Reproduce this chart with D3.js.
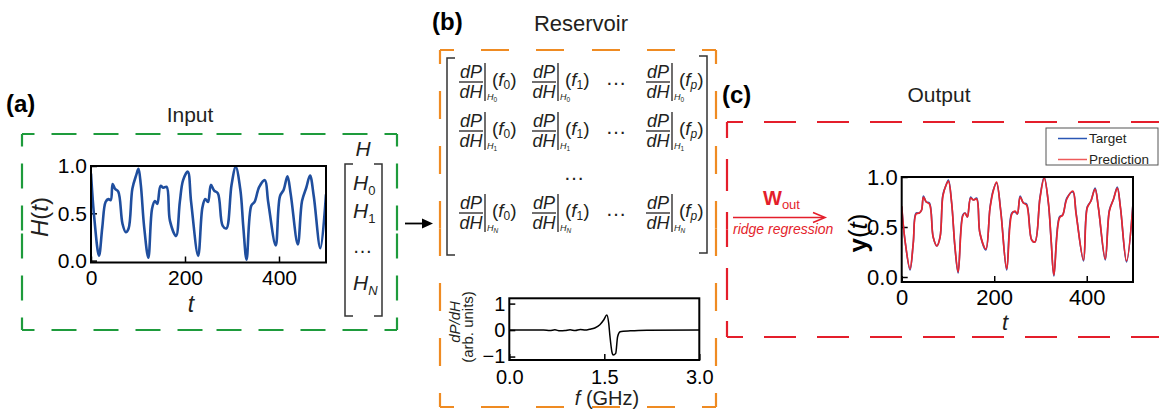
<!DOCTYPE html>
<html>
<head>
<meta charset="utf-8">
<script src="https://cdn.jsdelivr.net/npm/d3@7"></script>
<style>
  body { margin: 0; background: #fff; }
  svg { display: block; }
</style>
</head>
<body>
<svg id="fig" width="1159" height="419"></svg>
<script>
/* Schéma reservoir computing : entrée H(t), réservoir dP/dH, sortie y(t) */

const FONT = "Arial, 'Liberation Sans', Helvetica, sans-serif";
const INK = "#231f20", BLEU = "#1f4e9e", VERT = "#1e9b3c", ORANGE = "#ef8b22", ROUGE = "#e41e2b";

// (a) signal d'entrée H(t)
const inT = [0, 7, 17, 24, 31, 37, 42, 46, 51, 58, 67, 74, 80, 88, 96, 101, 106, 113, 122, 130, 136, 141,
  148, 154, 161, 168, 181, 189, 196, 206, 213, 228, 237, 243, 249, 255, 262, 270, 280, 288, 299, 308,
  318, 324, 331, 341, 348, 358, 370, 377, 393, 402, 410, 418, 425, 440, 449, 458, 466, 474, 488, 500];
const inH = [0.92, 0.45, 0.05, 0.35, 0.62, 0.65, 0.64, 0.81, 0.76, 0.73, 0.39, 0.30, 0.34, 0.76, 0.90, 0.97,
  0.80, 0.36, 0.03, 0.55, 0.63, 0.60, 0.79, 0.77, 0.78, 0.42, 0.26, 0.62, 0.85, 0.94, 0.62, 0.05, 0.56,
  0.65, 0.62, 0.80, 0.74, 0.71, 0.37, 0.34, 0.80, 0.99, 0.74, 0.36, 0.01, 0.58, 0.62, 0.78, 0.85, 0.62,
  0.16, 0.68, 0.75, 0.89, 0.70, 0.17, 0.63, 0.77, 0.90, 0.68, 0.13, 0.70];
const inVec = ["0", "1", null, "N"];          // H_0, H_1, ..., H_N

// (b) matrice du réservoir + spectre dP/dH
const rowSubs = ["0", "1", "N"];
const colSubs = ["0", "1", "p"];
const freq = [0, 0.33, 0.54, 0.64, 0.72, 0.80, 0.88, 0.96, 1.04, 1.12, 1.20, 1.27, 1.35, 1.43, 1.49, 1.54,
  1.57, 1.59, 1.62, 1.64, 1.68, 1.71, 1.75, 1.80, 1.91, 2.17, 3.0];
const dPdH = [0, 0, 0, -0.02, 0.01, -0.03, -0.02, 0.01, -0.02, 0.02, 0.0, 0.03, 0.08, 0.2, 0.38, 0.57,
  0.25, -0.25, -0.82, -0.94, -0.88, -0.25, -0.06, -0.04, -0.03, -0.01, 0];

// (c) sortie : cible et prédiction
const outT = [0, 7, 18, 25, 31, 38, 43, 47, 53, 60, 68, 76, 83, 89, 96, 101, 108, 115, 122, 132, 137, 142,
  149, 155, 162, 169, 182, 191, 198, 205, 214, 227, 238, 245, 250, 256, 263, 270, 281, 288, 299, 308,
  317, 323, 329, 341, 348, 357, 370, 377, 393, 401, 409, 418, 425, 440, 449, 458, 466, 473, 486, 500];
const yTarget = [0.70, 0.37, 0.07, 0.34, 0.64, 0.64, 0.67, 0.81, 0.75, 0.74, 0.40, 0.31, 0.40, 0.82, 0.92,
  0.97, 0.74, 0.30, 0.04, 0.62, 0.64, 0.60, 0.80, 0.77, 0.79, 0.44, 0.27, 0.70, 0.87, 0.94, 0.67, 0.07,
  0.64, 0.65, 0.63, 0.81, 0.74, 0.73, 0.37, 0.35, 0.80, 1.00, 0.74, 0.37, 0.01, 0.60, 0.62, 0.79, 0.85,
  0.64, 0.16, 0.70, 0.76, 0.89, 0.70, 0.17, 0.67, 0.78, 0.90, 0.69, 0.15, 0.74];
const yPred = [0.71, 0.37, 0.08, 0.34, 0.63, 0.64, 0.67, 0.80, 0.75, 0.73, 0.40, 0.31, 0.40, 0.81, 0.92,
  0.96, 0.74, 0.31, 0.05, 0.61, 0.64, 0.60, 0.79, 0.77, 0.78, 0.44, 0.28, 0.69, 0.86, 0.95, 0.66, 0.08,
  0.63, 0.66, 0.63, 0.80, 0.74, 0.72, 0.37, 0.35, 0.79, 0.99, 0.75, 0.37, 0.02, 0.59, 0.62, 0.78, 0.86,
  0.63, 0.17, 0.69, 0.76, 0.88, 0.70, 0.18, 0.66, 0.78, 0.89, 0.69, 0.16, 0.73];

const tTicks = [0, 200, 400];
const yTicks01 = [0, 0.5, 1];
const fTicks = [0, 1.5, 3];
const dTicks = [-1, 0, 1];

const svg = d3.select("#fig").style("font-family", FONT);
const defs = svg.append("defs");
const lisse = d3.curveCatmullRom.alpha(0.5);

/* ---------------- utilitaires ---------------------------------------------- */
function cadreTirets(x0, y0, x1, y1, cor, dash, gap, cotes) {
  // chaque côté est tracé en deux moitiés qui partent des coins
  const segs = {
    top: [[x0, y0, (x0 + x1) / 2, y0], [x1, y0, (x0 + x1) / 2, y0]],
    bottom: [[x0, y1, (x0 + x1) / 2, y1], [x1, y1, (x0 + x1) / 2, y1]],
    left: [[x0, y0, x0, (y0 + y1) / 2], [x0, y1, x0, (y0 + y1) / 2]],
    right: [[x1, y0, x1, (y0 + y1) / 2], [x1, y1, x1, (y0 + y1) / 2]],
  };
  cotes.forEach((c) => segs[c].forEach(([a, b, c2, d]) => {
    svg.append("line").attr("x1", a).attr("y1", b).attr("x2", c2).attr("y2", d)
      .attr("stroke", cor).attr("stroke-width", 2.2)
      .attr("stroke-dasharray", `${dash} ${gap}`).attr("stroke-dashoffset", dash / 2);
  }));
}

function texte(x, y, s, size, opts = {}) {
  const t = svg.append("text").attr("x", x).attr("y", y).attr("font-size", size)
    .attr("fill", opts.fill || INK).attr("text-anchor", opts.anchor || "start");
  if (opts.bold) t.attr("font-weight", "bold");
  if (opts.italic) t.attr("font-style", "italic");
  t.text(s);
  return t;
}

function axes(id, x, y, xt, yt, fs, xpad, ypad, xfmt, yfmt) {
  const [bx0, bx1] = x.range();
  const by0 = Math.min(...y.range()), by1 = Math.max(...y.range());
  const g = svg.append("g");
  g.append("g").attr("transform", `translate(0,${by1})`)
    .call(d3.axisBottom(x).tickValues(xt).tickSizeInner(-6).tickSizeOuter(0)
      .tickPadding(xpad).tickFormat(xfmt))
    .call((s) => s.select(".domain").remove())
    .attr("font-size", fs).attr("font-family", FONT)
    .call((s) => s.selectAll("line").attr("stroke", "#000").attr("stroke-width", 1.5))
    .call((s) => s.selectAll("text").attr("fill", "#000"));
  g.append("g").attr("transform", `translate(${bx0},0)`)
    .call(d3.axisLeft(y).tickValues(yt).tickSizeInner(-6).tickSizeOuter(0)
      .tickPadding(ypad).tickFormat(yfmt))
    .call((s) => s.select(".domain").remove())
    .attr("font-size", fs).attr("font-family", FONT)
    .call((s) => s.selectAll("line").attr("stroke", "#000").attr("stroke-width", 1.5))
    .call((s) => s.selectAll("text").attr("fill", "#000"));
  defs.append("clipPath").attr("id", id).append("rect")
    .attr("x", bx0).attr("y", by0).attr("width", bx1 - bx0).attr("height", by1 - by0);
  return { g, box: [bx0, by0, bx1, by1] };
}

function boite([x0, y0, x1, y1]) {
  svg.append("rect").attr("x", x0).attr("y", y0).attr("width", x1 - x0).attr("height", y1 - y0)
    .attr("fill", "none").attr("stroke", "#000").attr("stroke-width", 2);
}

const crochet = (x, y0, y1, dir) => svg.append("path")
  .attr("d", `M${x + 8 * dir},${y0}H${x}V${y1}H${x + 8 * dir}`)
  .attr("fill", "none").attr("stroke", "#333").attr("stroke-width", 1.5);

/* ---------------- (a) Input ------------------------------------------------ */
cadreTirets(22, 134, 397, 330, VERT, 25, 17, ["top", "bottom", "left", "right"]);
texte(6, 112, "(a)", 24, { bold: true, fill: "#000" });
texte(190, 122, "Input", 21, { anchor: "middle" });

const xa = d3.scaleLinear([0, 500], [91, 326]);
const ya = d3.scaleLinear([-0.02, 1], [262.5, 166]);
const A = axes("clipA", xa, ya, tTicks, yTicks01, 21, 8, 4, d3.format("d"), d3.format(".1f"));
svg.append("path").datum(inT.map((t, i) => [t, inH[i]]))
  .attr("clip-path", "url(#clipA)")
  .attr("fill", "none").attr("stroke", BLEU).attr("stroke-width", 2.6).attr("stroke-linejoin", "round")
  .attr("d", d3.line().x((d) => xa(d[0])).y((d) => ya(d[1])).curve(lisse));
boite(A.box);
svg.append("text").attr("transform", "translate(48,217) rotate(-90)")
  .attr("text-anchor", "middle").attr("font-size", 24).attr("fill", INK)
  .html('<tspan font-style="italic">H</tspan>(<tspan font-style="italic">t</tspan>)');
texte(191, 312, "t", 23, { italic: true, anchor: "middle" });

// vecteur [H_0 ... H_N]
texte(363, 156, "H", 21, { italic: true, anchor: "middle" });
crochet(345, 164, 316, 1);
crochet(382, 164, 316, -1);
const vecY = [190, 218, 250, 290];
inVec.forEach((s, i) => {
  if (s === null) {
    texte(362.5, vecY[i] + 3, "…", 20, { anchor: "middle" });
  } else {
    svg.append("text").attr("x", 353).attr("y", vecY[i]).attr("font-size", 21).attr("fill", INK)
      .html(`<tspan font-style="italic">H</tspan><tspan font-size="13" dy="5" ${s === "N" ? 'font-style="italic"' : ""}>${s}</tspan>`);
  }
});

// flèche (a) -> (b)
svg.append("line").attr("x1", 405).attr("y1", 223.5).attr("x2", 425).attr("y2", 223.5)
  .attr("stroke", "#000").attr("stroke-width", 1.8);
svg.append("path").attr("d", "M433,223.5L422,218.5L422,228.5Z").attr("fill", "#000");

/* ---------------- (b) Reservoir ------------------------------------------- */
cadreTirets(440, 50, 716, 407, ORANGE, 28, 27, ["top", "bottom", "left", "right"]);
texte(432, 30, "(b)", 24, { bold: true, fill: "#000" });
texte(581, 31, "Reservoir", 22, { anchor: "middle" });

crochet(447, 58, 255, 1);
crochet(707, 56, 253, -1);

const colX = [459, 532, 646];
const rowY = [82, 131, 213];
function entree(x0, by, hs, fs) {
  texte(x0 + 12, by - 4, "dP", 18, { anchor: "middle", italic: true });
  svg.append("line").attr("x1", x0).attr("x2", x0 + 24).attr("y1", by).attr("y2", by)
    .attr("stroke", INK).attr("stroke-width", 1.3);
  texte(x0 + 12, by + 16, "dH", 18, { anchor: "middle", italic: true });
  svg.append("line").attr("x1", x0 + 26).attr("x2", x0 + 26).attr("y1", by - 19).attr("y2", by + 19)
    .attr("stroke", INK).attr("stroke-width", 1.3);
  svg.append("text").attr("x", x0 + 28).attr("y", by + 18).attr("font-size", 9).attr("fill", INK)
    .html(`<tspan font-style="italic">H</tspan><tspan font-size="6.5" dy="1.5" ${hs === "N" ? 'font-style="italic"' : ""}>${hs}</tspan>`);
  svg.append("text").attr("x", x0 + 33).attr("y", by + 4).attr("font-size", 19).attr("fill", INK)
    .html(`(<tspan font-style="italic">f</tspan><tspan font-size="12" dy="3" ${fs === "p" ? 'font-style="italic"' : ""}>${fs}</tspan><tspan dy="-3">)</tspan>`);
}
rowSubs.forEach((hs, r) => {
  colSubs.forEach((fs, c) => entree(colX[c], rowY[r], hs, fs));
  texte(616, rowY[r] + 3, "…", 21, { anchor: "middle" });
});
texte(574, 180, "…", 21, { anchor: "middle" });

const xf = d3.scaleLinear([0, 3], [509.3, 699.3]);
const yf = d3.scaleLinear([-1.13, 1.2], [360, 298.3]);
const B = axes("clipB", xf, yf, fTicks, dTicks, 20, 10, 4, d3.format(".1f"), d3.format("d"));
svg.append("path").datum(freq.map((f, i) => [f, dPdH[i]]))
  .attr("clip-path", "url(#clipB)")
  .attr("fill", "none").attr("stroke", "#000").attr("stroke-width", 1.5).attr("stroke-linejoin", "round")
  .attr("d", d3.line().x((d) => xf(d[0])).y((d) => yf(d[1])).curve(d3.curveMonotoneX));
boite(B.box);
svg.append("text").attr("transform", "translate(460,322) rotate(-90)")
  .attr("text-anchor", "middle").attr("font-size", 15).attr("font-style", "italic").attr("fill", INK)
  .text("dP/dH");
svg.append("text").attr("transform", "translate(473,327) rotate(-90)")
  .attr("text-anchor", "middle").attr("font-size", 15).attr("fill", INK)
  .text("(arb. units)");
svg.append("text").attr("x", 607).attr("y", 405).attr("text-anchor", "middle")
  .attr("font-size", 20).attr("fill", INK)
  .html('<tspan font-style="italic">f</tspan> (GHz)');

/* ---------------- (c) Output ---------------------------------------------- */
cadreTirets(727, 122, 1200, 337, ROUGE, 32, 21, ["top", "bottom", "left"]);
texte(722, 103, "(c)", 24, { bold: true, fill: "#000" });
texte(939, 102, "Output", 21, { anchor: "middle" });

// W_out
svg.append("text").attr("x", 763).attr("y", 205).attr("fill", ROUGE).attr("font-size", 20)
  .attr("font-weight", "bold")
  .html('W<tspan font-size="13" font-weight="normal" dy="4">out</tspan>');
svg.append("line").attr("x1", 733).attr("x2", 824).attr("y1", 217.5).attr("y2", 217.5)
  .attr("stroke", ROUGE).attr("stroke-width", 1.6);
svg.append("path").attr("d", "M813,212.5L825,217.5L813,222.5")
  .attr("fill", "none").attr("stroke", ROUGE).attr("stroke-width", 1.6);
texte(733, 234, "ridge regression", 14, { italic: true, fill: ROUGE });

const xo = d3.scaleLinear([0, 500], [901.7, 1133]);
const yo = d3.scaleLinear([-0.05, 1], [282, 177]);
const C = axes("clipC", xo, yo, tTicks, yTicks01, 22, 7, 4, d3.format("d"), d3.format(".1f"));
const lineO = d3.line().x((d) => xo(d[0])).y((d) => yo(d[1])).curve(lisse);
svg.append("path").datum(outT.map((t, i) => [t, yTarget[i]]))
  .attr("clip-path", "url(#clipC)").attr("fill", "none")
  .attr("stroke", "#2a56b4").attr("stroke-width", 1.6).attr("d", lineO);
svg.append("path").datum(outT.map((t, i) => [t, yPred[i]]))
  .attr("clip-path", "url(#clipC)").attr("fill", "none")
  .attr("stroke", "#e8262e").attr("stroke-width", 1.7).attr("d", lineO);
boite(C.box);
svg.append("text").attr("transform", "translate(867,233) rotate(-90)")
  .attr("text-anchor", "middle").attr("font-size", 26).attr("fill", "#000")
  .html('<tspan font-weight="bold">y</tspan>(<tspan font-style="italic">t</tspan>)');
texte(1005, 330, "t", 22, { italic: true, anchor: "middle" });

// légende
svg.append("rect").attr("x", 1046).attr("y", 128).attr("width", 112).attr("height", 37)
  .attr("fill", "#fff").attr("stroke", "#555").attr("stroke-width", 1);
[["Target", "#2a56b4", 138.5], ["Prediction", "#ee5a5a", 159.5]].forEach(([lab, c, y]) => {
  svg.append("line").attr("x1", 1058).attr("x2", 1087).attr("y1", y).attr("y2", y)
    .attr("stroke", c).attr("stroke-width", 1.5);
  texte(1089, y + 4.5, lab, 13.5);
});
</script>
</body>
</html>
